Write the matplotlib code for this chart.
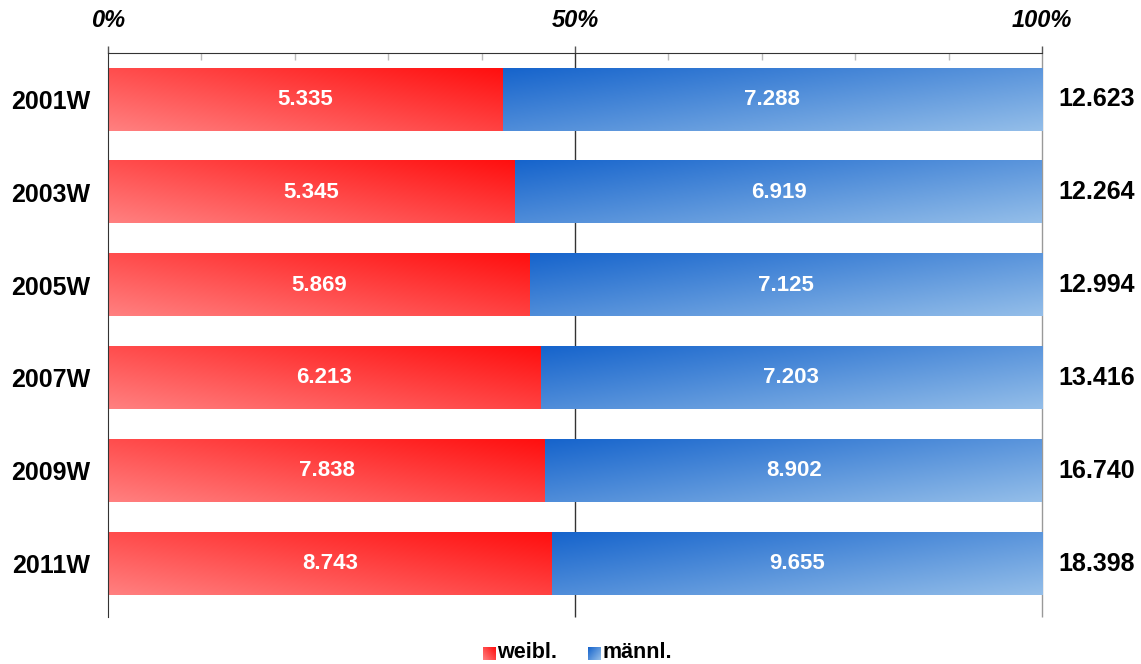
import numpy as np
import matplotlib
matplotlib.use("Agg")
import matplotlib.pyplot as plt
from matplotlib.colors import to_rgb

plt.rcParams['font.family'] = ['Liberation Sans', 'DejaVu Sans']

semesters = ['2001W', '2003W', '2005W', '2007W', '2009W', '2011W']
weibl = [5335, 5345, 5869, 6213, 7838, 8743]
maennl = [7288, 6919, 7125, 7203, 8902, 9655]
pct_ticks = [0, 50, 100]
pct_labels = ['0%', '50%', '100%']


def fmt(n):
    # German thousands separator
    return f"{n:,}".replace(',', '.')


def gradient(c_lo, c_hi, nx, ny, mode):
    u = np.linspace(0, 1, nx)[None, :]
    v = np.linspace(0, 1, ny)[:, None]
    if mode == 'red':      # light bottom-left -> bright top-right
        t = 0.55 * u + 0.45 * v
    else:                  # dark top-left -> light bottom-right
        t = 0.55 * u + 0.45 * (1 - v)
    lo = np.array(to_rgb(c_lo))
    hi = np.array(to_rgb(c_hi))
    return lo + (hi - lo) * t[..., None]


red_lo, red_hi = '#ff8080', '#ff0f0f'
blue_lo, blue_hi = '#1664cc', '#94bee9'

fig = plt.figure(figsize=(11.41, 6.64), dpi=100)
W, H = 1141, 664
ax = fig.add_axes([108 / W, 1 - 610 / H, (1042 - 108) / W, (610 - 53) / H])

bar_h = 0.67
n = len(semesters)
for i, (f, m) in enumerate(zip(weibl, maennl)):
    y = n - 1 - i
    tot = f + m
    pf = f / tot * 100
    img_r = gradient(red_lo, red_hi, 200, 40, 'red')
    ax.imshow(img_r, extent=(0, pf, y - bar_h / 2, y + bar_h / 2),
              origin='lower', aspect='auto', interpolation='bilinear', zorder=2)
    img_b = gradient(blue_lo, blue_hi, 200, 40, 'blue')
    ax.imshow(img_b, extent=(pf, 100, y - bar_h / 2, y + bar_h / 2),
              origin='lower', aspect='auto', interpolation='bilinear', zorder=2)
    ax.text(pf / 2, y, fmt(f), color='white', fontsize=16, fontweight='bold',
            ha='center', va='center', zorder=4)
    ax.text(pf + (100 - pf) / 2, y, fmt(m), color='white', fontsize=16,
            fontweight='bold', ha='center', va='center', zorder=4)
    ax.annotate(fmt(tot), xy=(100, y), xytext=(11.5, 0), textcoords='offset points',
                ha='left', va='center', fontsize=18, fontweight='bold',
                annotation_clip=False)

ax.set_xlim(0, 100)
ax.set_ylim(-0.5, n - 0.5)

# vertical lines at 50% and 100%
ax.vlines(50, -0.58, n - 0.5, color='#333333', lw=1, zorder=1, clip_on=False)
ax.vlines(100, -0.58, n - 0.5, color='#999999', lw=1, zorder=1, clip_on=False)

ax.set_yticks(range(n))
ax.set_yticklabels(semesters[::-1], fontsize=18, fontweight='bold')
ax.tick_params(axis='y', length=0, pad=13)

ax.xaxis.tick_top()
ax.set_xticks(pct_ticks)
ax.set_xticklabels(pct_labels, fontsize=17, fontweight='bold', fontstyle='italic')
ax.set_xticks(range(10, 100, 10), minor=True)
ax.tick_params(axis='x', which='major', direction='out', length=5, width=1,
               color='#555555', pad=10)
ax.tick_params(axis='x', which='minor', direction='in', length=5, width=1,
               color='#bbbbbb', top=True, bottom=False)

for s in ['right', 'bottom']:
    ax.spines[s].set_visible(False)
ax.spines['top'].set_color('#333333')
ax.spines['left'].set_color('#333333')
ax.spines['left'].set_bounds(-0.58, n - 0.5)

# legend with gradient squares
for x0, lo, hi, mode, label, tx in [(483, red_lo, red_hi, 'red', 'weibl.', 497),
                                    (588, blue_lo, blue_hi, 'blue', 'männl.', 602)]:
    lax = fig.add_axes([x0 / W, 1 - 660 / H, 13 / W, 13 / H])
    lax.imshow(gradient(lo, hi, 20, 20, mode), origin='lower', aspect='auto',
               interpolation='bilinear')
    lax.axis('off')
    fig.text(tx / W, 1 - 653 / H, label, fontsize=15.5, fontweight='bold',
             ha='left', va='center')

fig.savefig('out.png', dpi=100)
